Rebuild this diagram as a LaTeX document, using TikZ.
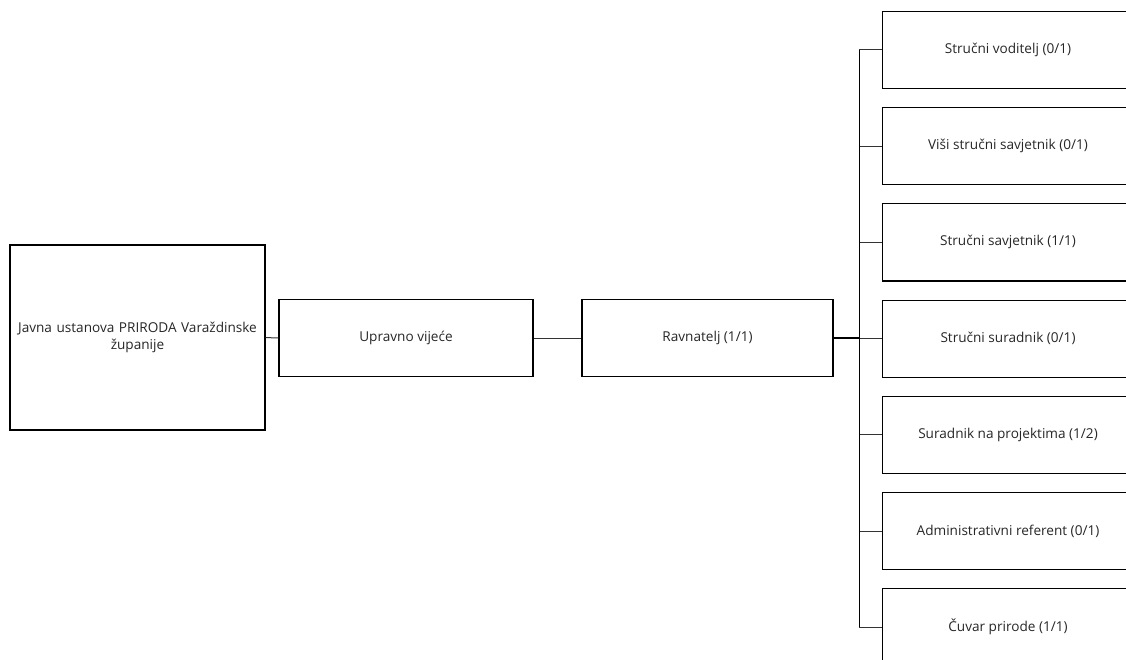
\documentclass[tikz,border=0pt]{standalone}
\usepackage{fontspec}
\setmainfont{Open Sans}
\usetikzlibrary{positioning,calc}
\tikzstyle{unit}=[rectangle,draw=black,line width=1.2pt,minimum width=251pt,minimum height=77pt,align=center,text=black!85,font=\fontsize{13.6}{17}\selectfont,inner sep=0pt]
\tikzset{link/.style={line width=1pt,draw=black!80}}

\begin{document}
\begin{tikzpicture}[x=1pt,y=-1pt]
		\useasboundingbox (0,0) rectangle (1126,660);

		\def\trunkX {859}
		\def\boxX {1008}
		\def\firstY {50}
		\def\gapY {96.2}

		\node [unit,minimum width=255pt,minimum height=185pt,text width=250pt] (ustanova) at (137.5,337.5) {Javna ustanova PRIRODA Varaždinske\\ županije};
		\node [unit,minimum width=254pt] (vijece) at (406,338) {Upravno vijeće};
		\node [unit] (ravnatelj) at (707.5,338) {Ravnatelj (1/1)};
		\coordinate (trunk) at (\trunkX,338);

		\foreach \txt [count=\cnt] in {Stručni voditelj (0/1),Viši stručni savjetnik (0/1),Stručni savjetnik (1/1),Stručni suradnik (0/1),Suradnik na projektima (1/2),Administrativni referent (0/1),Čuvar prirode (1/1)}
		{
			\node [unit] (S\cnt) at (\boxX,{\firstY + \gapY * (\cnt - 1)}) {\txt};
			\draw [link] (trunk |- S\cnt.west) -- (S\cnt.west);
		}

		\draw [link] (ustanova) -- (vijece);
		\draw [link] (vijece) -- (ravnatelj);
		\draw [link,line width=2pt,draw=black] (ravnatelj) -- (trunk);
		\draw [link,draw=black] (trunk |- S1.west) -- (trunk |- S7.west);

\end{tikzpicture}
\end{document}
